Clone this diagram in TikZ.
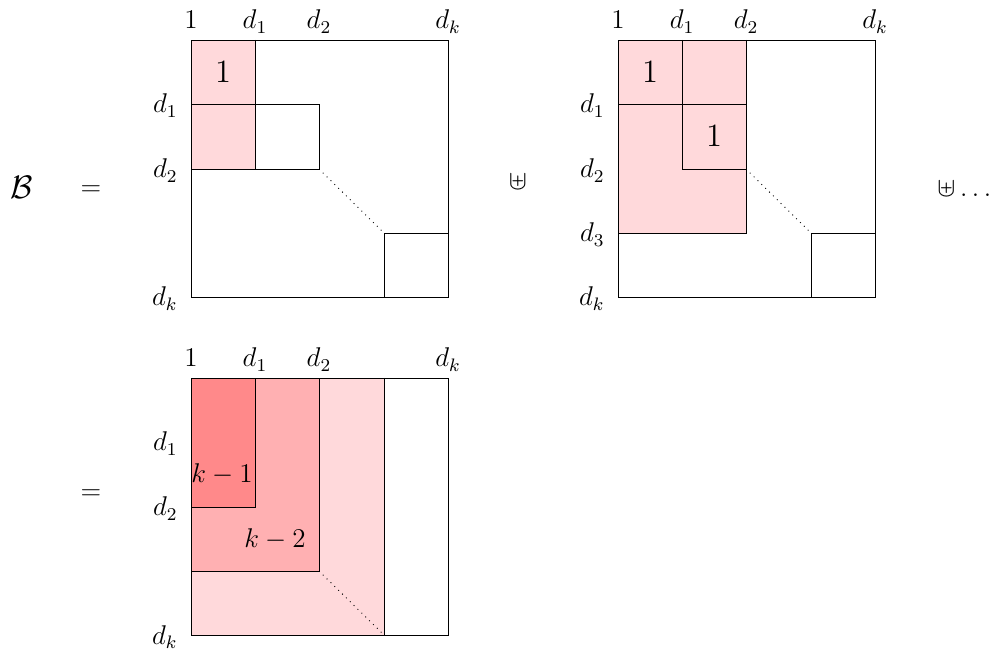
\documentclass[tikz,border=0pt]{standalone}
\definecolor{pinkA}{RGB}{255,217,219}
\definecolor{pinkB}{RGB}{255,176,178}
\definecolor{pinkC}{RGB}{255,137,138}
\begin{document}
\begin{tikzpicture}[x=0.015564cm,y=-0.015564cm,
  lab/.style={inner sep=0pt,font=\fontsize{12}{14}\selectfont},
  toplab/.style={lab,anchor=base},
  leftlab/.style={lab,anchor=base east},
  big/.style={inner sep=0pt,anchor=base,font=\fontsize{12.5}{15}\selectfont},
  cellnum/.style={inner sep=0pt,anchor=base,font=\fontsize{14}{17}\selectfont},
  klab/.style={inner sep=0pt,anchor=base,font=\fontsize{12.5}{15}\selectfont},
  frame/.style={draw=black,line width=0.4pt},
  diag/.style={dotted,line width=0.4pt}]
\useasboundingbox (0,0) rectangle (1001,653);

% ---------- left side ----------
\node[big,font=\fontsize{14}{17}\selectfont] (B) at (22,199) {$\mathcal{B}$};
\node[big] (eq1) at (91,196) {$=$};
\node[big] (eq2) at (91,500) {$=$};
\node[big] (plus1) at (518,190) {$\uplus$};
\node[big,anchor=base west] (plus2) at (937,197) {$\uplus\ldots$};

% ---------- matrix 1 ----------
\fill[pinkA] (191,40) rectangle (255,169);
\draw[frame] (191,40) rectangle (448,297);
\draw[frame] (255,40) -- (255,169);
\draw[frame] (191,104) rectangle (319,169);
\draw[frame] (384,233) rectangle (448,297);
\draw[diag] (319,169) -- (384,233);
\node[cellnum] (m1one) at (223,83) {$1$};
\node[toplab] (m1t1) at (191,29) {$1$};
\node[toplab] (m1t2) at (255,29) {$d_1$};
\node[toplab] (m1t3) at (319,29) {$d_2$};
\node[toplab] (m1t4) at (448,29) {$d_k$};
\node[leftlab] (m1l1) at (178,113) {$d_1$};
\node[leftlab] (m1l2) at (178,178) {$d_2$};
\node[leftlab] (m1l3) at (178,306) {$d_k$};

% ---------- matrix 2 ----------
\fill[pinkA] (618,40) rectangle (746,233);
\draw[frame] (618,40) rectangle (875,297);
\draw[frame] (682,40) -- (682,169) -- (746,169);
\draw[frame] (618,104) -- (746,104);
\draw[frame] (746,40) -- (746,233) -- (618,233);
\draw[frame] (811,233) rectangle (875,297);
\draw[diag] (746,169) -- (811,233);
\node[cellnum] (m2one) at (650,83) {$1$};
\node[cellnum] (m2two) at (714,147) {$1$};
\node[toplab] (m2t1) at (618,29) {$1$};
\node[toplab] (m2t2) at (682,29) {$d_1$};
\node[toplab] (m2t3) at (746,29) {$d_2$};
\node[toplab] (m2t4) at (875,29) {$d_k$};
\node[leftlab] (m2l1) at (605,113) {$d_1$};
\node[leftlab] (m2l2) at (605,178) {$d_2$};
\node[leftlab] (m2l3) at (605,242) {$d_3$};
\node[leftlab] (m2l4) at (605,306) {$d_k$};

% ---------- matrix 3 ----------
\fill[pinkA] (191,378) rectangle (384,635);
\fill[pinkB] (191,378) rectangle (319,571);
\fill[pinkC] (191,378) rectangle (255,507);
\draw[frame] (191,378) rectangle (448,635);
\draw[frame] (384,378) -- (384,635);
\draw[frame] (191,378) rectangle (319,571);
\draw[frame] (191,378) rectangle (255,507);
\draw[diag] (319,571) -- (384,635);
\node[klab] (k1) at (222,483) {$k-1$};
\node[klab] (k2) at (275,548) {$k-2$};
\node[toplab] (m3t1) at (191,367) {$1$};
\node[toplab] (m3t2) at (255,367) {$d_1$};
\node[toplab] (m3t3) at (319,367) {$d_2$};
\node[toplab] (m3t4) at (448,367) {$d_k$};
\node[leftlab] (m3l1) at (178,451) {$d_1$};
\node[leftlab] (m3l2) at (178,516) {$d_2$};
\node[leftlab] (m3l3) at (178,644) {$d_k$};
\end{tikzpicture}
\end{document}
